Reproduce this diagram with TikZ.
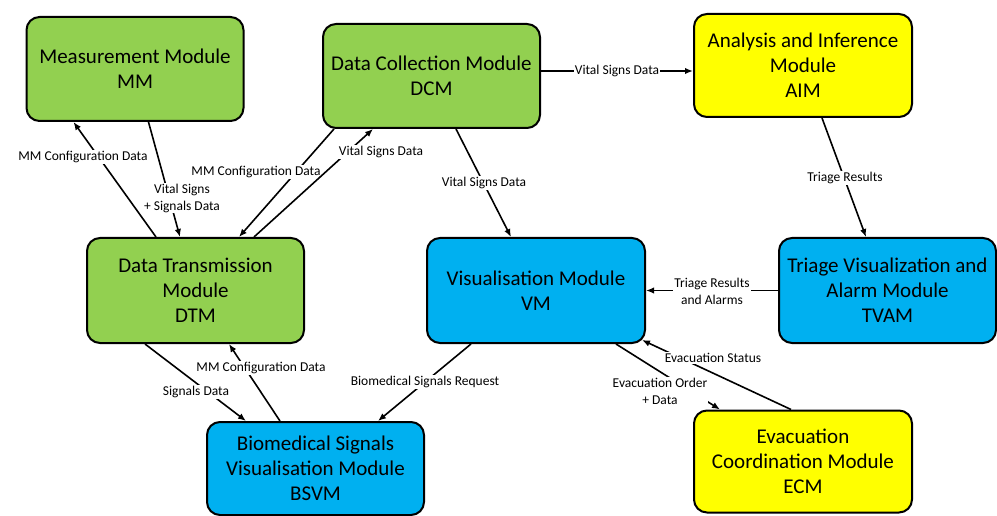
\documentclass[tikz,border=0pt]{standalone}
\usepackage{fontspec}
\setmainfont{Carlito}
\usetikzlibrary{arrows.meta,calc}
\definecolor{modgreen}{HTML}{92D050}
\definecolor{modyellow}{HTML}{FFFF00}
\definecolor{modblue}{HTML}{00B0F0}

\begin{document}
\begin{tikzpicture}[x=1pt,y=-1pt,
  module/.style={draw=black, line width=2pt, rounded corners=13pt, align=center,
    font=\fontsize{21}{25}\selectfont, minimum width=217pt, minimum height=104pt, inner sep=0pt},
  gmod/.style={module, fill=modgreen},
  ymod/.style={module, fill=modyellow},
  bmod/.style={module, fill=modblue},
  flow/.style={line width=1.6pt, -{Latex[length=8pt,width=6.5pt]}},
  lbl/.style={fill=white, inner sep=1pt, align=center, font=\fontsize{13.5}{17}\selectfont}
]
\useasboundingbox (0,0) rectangle (997,516);

% modules
\node[gmod] (mm)   at (135,69)    {Measurement Module\\MM};
\node[gmod] (dcm)  at (431.5,76)  {Data Collection Module\\DCM};
\node[ymod, minimum width=218pt, minimum height=103pt] (aim) at (803,65.5) {Analysis and Inference\\Module\\AIM};
\node[gmod, minimum height=105pt] (dtm)  at (195.5,290.5) {Data Transmission\\Module\\DTM};
\node[bmod, minimum width=218pt, minimum height=105pt] (vm) at (536,290.5) {Visualisation Module\\VM};
\node[bmod, minimum height=105pt] (tvam) at (887.5,290.5) {Triage Visualization and\\Alarm Module\\TVAM};
\node[bmod, minimum height=93pt] (bsvm) at (315.5,468.5) {Biomedical Signals\\Visualisation Module\\BSVM};
\node[ymod, minimum width=218pt, minimum height=102pt] (ecm) at (803,461.5) {Evacuation\\Coordination Module\\ECM};

% data flows
\draw[flow] ($(dtm.north west)+(70,0)$) -- ($(mm.south west)+(48,0)$)
  node[lbl] at (83,157) {MM Configuration Data};
\draw[flow] ($(mm.south west)+(123,0)$) -- ($(dtm.north west)+(94,0)$)
  node[lbl] at (182,198) {Vital Signs\\+ Signals Data};
\draw[flow] ($(dcm.south west)+(12,0)$) -- ($(dtm.north west)+(153,0)$)
  node[lbl] at (256,172) {MM Configuration Data};
\draw[flow] ($(dtm.north west)+(168,0)$) -- ($(dcm.south west)+(51,0)$)
  node[lbl] at (381,152) {Vital Signs Data};
\draw[flow] ($(dcm.east)+(0,-5)$) coordinate (dcmout) -- (aim.west |- dcmout)
  node[lbl] at (617,71) {Vital Signs Data};
\draw[flow] ($(dcm.south west)+(134,0)$) -- ($(vm.north west)+(85,0)$)
  node[lbl] at (484,183) {Vital Signs Data};
\draw[flow] ($(aim.south west)+(129,0)$) -- ($(tvam.north west)+(88,0)$)
  node[lbl] at (845,178) {Triage Results};
\draw[flow] (tvam.west) -- (vm.east)
  node[lbl] at (712,291) {Triage Results\\and Alarms};
\draw[flow] ($(vm.south west)+(45,0)$) -- ($(bsvm.north west)+(172,0)$)
  node[lbl] at (425,382) {Biomedical Signals Request};
\draw[flow] ($(dtm.south west)+(59,0)$) -- ($(bsvm.north west)+(40,0)$)
  node[lbl] at (196,392) {Signals Data};
\draw[flow] ($(bsvm.north west)+(74,0)$) -- ($(dtm.south west)+(143,0)$)
  node[lbl] at (261,368) {MM Configuration Data};
\draw[flow] ($(vm.south west)+(190,0)$) -- ($(ecm.north west)+(27,0)$)
  node[lbl] at (660,391) {Evacuation Order\\+ Data};
\draw[flow] ($(ecm.north west)+(98,0)$) -- ($(vm.south east)+(-4,-4)$)
  node[lbl] at (713,358) {Evacuation Status};
\end{tikzpicture}
\end{document}
